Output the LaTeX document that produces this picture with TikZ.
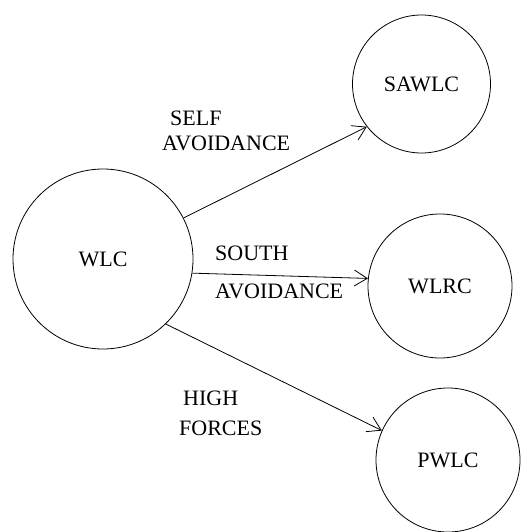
\documentclass[tikz,border=0pt]{standalone}
\usepackage{fontspec}
\setmainfont{Liberation Serif}
\usetikzlibrary{arrows.meta}
\tikzset{
	state/.style={circle, draw, line width=0.8pt, inner sep=0pt, font=\fontsize{22}{26}\selectfont},
	tag/.style={anchor=west, inner sep=0pt, font=\fontsize{22}{26}\selectfont},
	move/.style={line width=0.8pt, -{Straight Barb[length=13pt,width=16pt,line width=0.8pt]}}
}
\begin{document}
\begin{tikzpicture}[x=1pt, y=-1pt]
			\useasboundingbox (0,0) rectangle (520,532);
			\node[state, minimum size=180pt] (wlc) at (103,259) {WLC};
			\node[state, minimum size=138pt] (sawlc) at (421.5,84) {SAWLC};
			\node[state, minimum size=144pt] (wlrc) at (440,286) {WLRC};
			\node[state, minimum size=144pt] (pwlc) at (448,460) {PWLC};
			\draw[move] (wlc.27) -- (sawlc.218);
			\draw[move] (wlc.-9) -- (wlrc.174);
			\draw[move] (wlc.-46) -- (pwlc.156);
			\node[tag] (self) at (170,118) {SELF};
			\node[tag] (avoid1) at (162,143) {AVOIDANCE};
			\node[tag] (south) at (215,253) {SOUTH};
			\node[tag] (avoid2) at (215,291) {AVOIDANCE};
			\node[tag] (high) at (183,398) {HIGH};
			\node[tag] (forces) at (179,428) {FORCES};
		\end{tikzpicture}
\end{document}
